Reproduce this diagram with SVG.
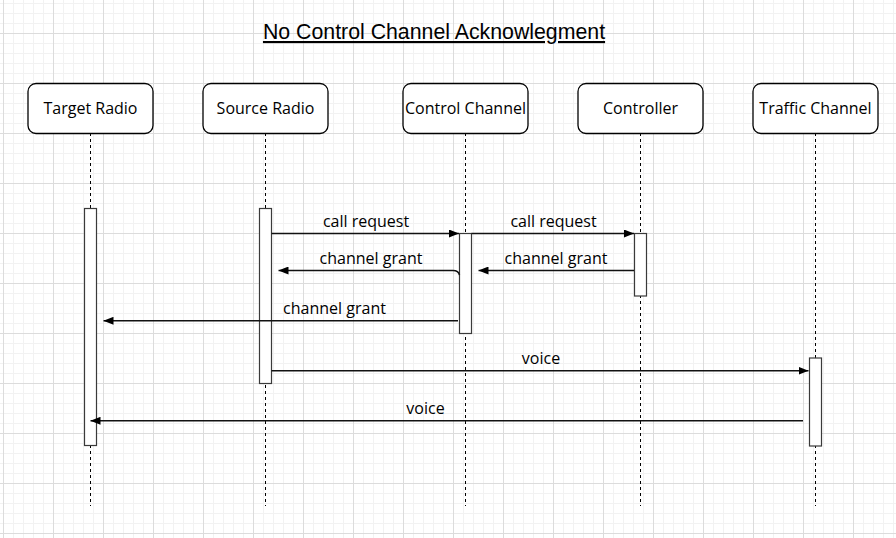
<svg xmlns="http://www.w3.org/2000/svg" width="896" height="538" viewBox="0 0 896 538">
  <style>
    .node rect.box { fill: #ffffff; stroke: #000000; stroke-width: 1.3; }
    .node text { font-family: "Open Sans", "Noto Sans", sans-serif; font-size: 16px; fill: #000000; text-anchor: middle; }
    .life { stroke: #000000; stroke-width: 1; stroke-dasharray: 3 3; fill: none; }
    .act { fill: #ffffff; stroke: #3a3a3a; stroke-width: 1.2; }
    .msg { stroke: #111111; stroke-width: 1.5; fill: none; }
    .lbl { font-family: "Open Sans", "Noto Sans", sans-serif; font-size: 16px; fill: #000000; text-anchor: middle; }
    .title { font-family: "Liberation Sans", Arial, sans-serif; font-size: 21.3px; fill: #000000; text-anchor: middle; text-decoration: underline; }
  </style>
  <defs>
    <pattern id="minor" patternUnits="userSpaceOnUse" x="3" y="3" width="10" height="10">
      <path d="M0.5,0 V10 M0,0.5 H10" stroke="#f2f2f2" stroke-width="1" fill="none"/>
    </pattern>
    <pattern id="major" patternUnits="userSpaceOnUse" x="3" y="33" width="50" height="50">
      <path d="M0.5,0 V50 M0,0.5 H50" stroke="#dcdcdc" stroke-width="1" fill="none"/>
    </pattern>
    <marker id="arrow" viewBox="0 0 10 8" refX="10" refY="4" markerWidth="10" markerHeight="8" markerUnits="userSpaceOnUse" orient="auto">
      <path d="M0,0 L10,4 L0,8 Z" fill="#000000"/>
    </marker>
  </defs>

  <rect x="0" y="0" width="896" height="538" fill="#ffffff"/>
  <rect x="0" y="0" width="896" height="538" fill="url(#minor)"/>
  <rect x="0" y="0" width="896" height="538" fill="url(#major)"/>

  <text class="title" x="434" y="39">No Control Channel Acknowlegment</text>

  <g id="lifelines">
    <line class="life" x1="90.5" y1="133" x2="90.5" y2="506"/>
    <line class="life" x1="265.5" y1="133" x2="265.5" y2="506"/>
    <line class="life" x1="465.5" y1="133" x2="465.5" y2="506"/>
    <line class="life" x1="640.5" y1="133" x2="640.5" y2="506"/>
    <line class="life" x1="815.5" y1="133" x2="815.5" y2="506"/>
  </g>

  <g id="node-target-radio" class="node">
    <rect class="box" x="28" y="83.5" width="125" height="50" rx="8"/>
    <text x="90.5" y="114">Target Radio</text>
    <rect class="act" x="84.5" y="208.5" width="12" height="237"/>
  </g>
  <g id="node-source-radio" class="node">
    <rect class="box" x="203" y="83.5" width="125" height="50" rx="8"/>
    <text x="265.5" y="114">Source Radio</text>
    <rect class="act" x="259.5" y="208.5" width="12" height="175"/>
  </g>
  <g id="node-control-channel" class="node">
    <rect class="box" x="403" y="83.5" width="125" height="50" rx="8"/>
    <text x="465.5" y="114">Control Channel</text>
    <rect class="act" x="459.5" y="233.5" width="12" height="100"/>
  </g>
  <g id="node-controller" class="node">
    <rect class="box" x="578" y="83.5" width="125" height="50" rx="8"/>
    <text x="640.5" y="114">Controller</text>
    <rect class="act" x="634.5" y="233.5" width="12" height="62.5"/>
  </g>
  <g id="node-traffic-channel" class="node">
    <rect class="box" x="753" y="83.5" width="125" height="50" rx="8"/>
    <text x="815.5" y="114">Traffic Channel</text>
    <rect class="act" x="809.5" y="358" width="12" height="88"/>
  </g>

  <g id="connectors">
    <line class="msg" x1="271.5" y1="233.5" x2="459" y2="233.5" marker-end="url(#arrow)"/>
    <text class="lbl" x="366" y="227">call request</text>

    <line class="msg" x1="471.5" y1="233.5" x2="634" y2="233.5" marker-end="url(#arrow)"/>
    <text class="lbl" x="553.5" y="227">call request</text>

    <path class="msg" d="M459.5,275 Q458.5,270.5 453,270.5 L278.5,270.5" marker-end="url(#arrow)"/>
    <text class="lbl" x="371" y="264">channel grant</text>

    <line class="msg" x1="634" y1="270.5" x2="478.5" y2="270.5" marker-end="url(#arrow)"/>
    <text class="lbl" x="556" y="264">channel grant</text>

    <line class="msg" x1="458" y1="320.8" x2="103.5" y2="320.8" marker-end="url(#arrow)"/>
    <text class="lbl" x="334.5" y="314">channel grant</text>

    <line class="msg" x1="271.5" y1="370.8" x2="808.5" y2="370.8" marker-end="url(#arrow)"/>
    <text class="lbl" x="541" y="364">voice</text>

    <line class="msg" x1="803" y1="420.8" x2="90.5" y2="420.8" marker-end="url(#arrow)"/>
    <text class="lbl" x="425.5" y="414">voice</text>
  </g>
</svg>
